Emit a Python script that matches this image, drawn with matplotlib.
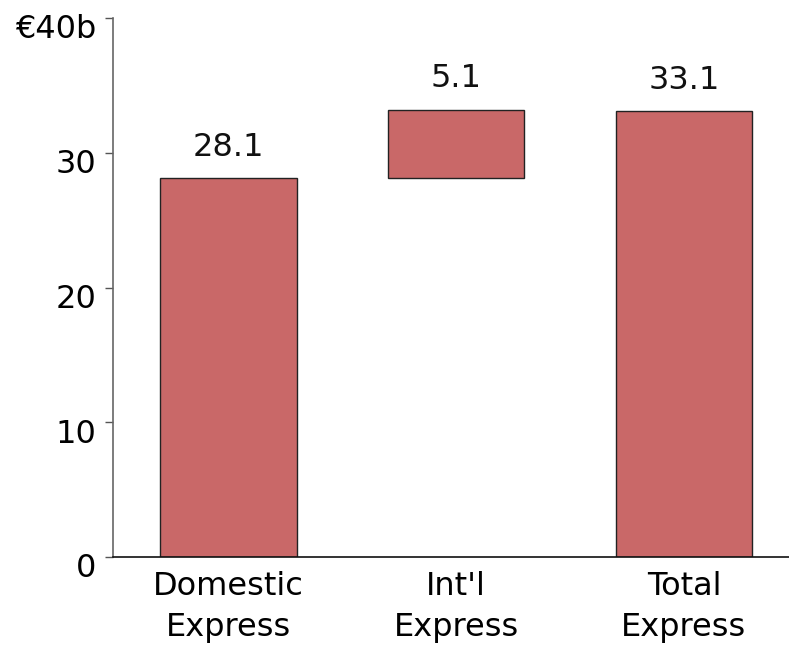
import matplotlib
matplotlib.use("Agg")
import matplotlib.pyplot as plt
import matplotlib.transforms as mtransforms

categories = ["Domestic\nExpress", "Int'l\nExpress", "Total\nExpress"]
values = [28.1, 5.1, 33.1]
bases = [0, 28.1, 0]
labels = ["28.1", "5.1", "33.1"]
yticks = [0, 10, 20, 30, 40]
yticklabels = ["0", "10", "20", "30", "€40b"]

plt.rcParams['font.family'] = ['DejaVu Sans']
fig = plt.figure(figsize=(7.89, 6.45), dpi=100)
ax = fig.add_axes([0.143, 0.1364, 0.857, 0.8356])

x = list(range(len(categories)))
ax.bar(x, values, bottom=bases, width=0.6, color="#C96868",
       edgecolor="#222222", linewidth=1.0)
for xi, v, b, lab in zip(x, values, bases, labels):
    ax.annotate(lab, (xi, v + b), xytext=(0, 11), textcoords="offset points",
                ha="center", va="bottom", fontsize=23, color="#111111")

ax.set_xlim(-0.507, 2.461)
ax.set_ylim(0, 40)
ax.set_yticks(yticks)
ax.set_yticklabels(yticklabels, fontsize=23)
ax.set_xticks(x)
ax.set_xticklabels(categories, fontsize=23, linespacing=1.42)
ax.tick_params(axis="x", length=0, pad=10)
ax.tick_params(axis="y", length=6, width=1, color="#555555", pad=6)
offset = mtransforms.ScaledTranslation(0, -6 / 72, fig.dpi_scale_trans)
for t in ax.get_yticklabels():
    t.set_transform(t.get_transform() + offset)
for s in ["top", "right"]:
    ax.spines[s].set_visible(False)
ax.spines["left"].set_color("#666666")
ax.spines["left"].set_linewidth(1.2)
ax.spines["bottom"].set_color("#111111")
ax.spines["bottom"].set_linewidth(1.2)

fig.savefig("out.png", dpi=100)
